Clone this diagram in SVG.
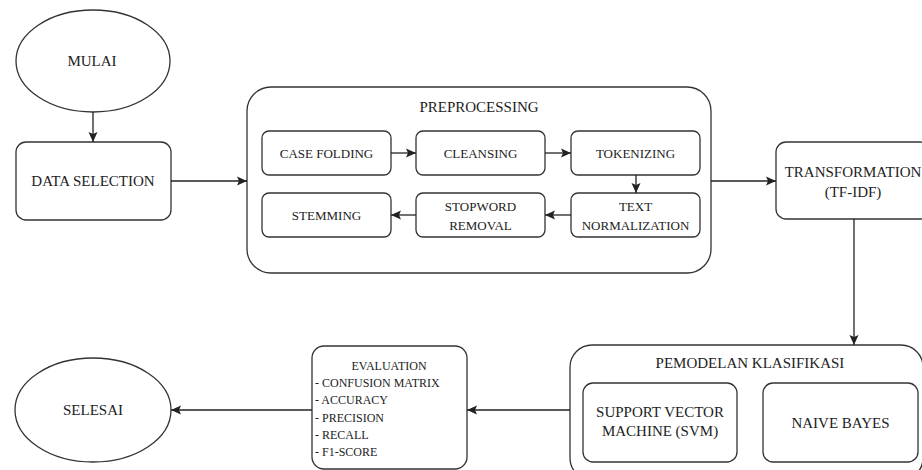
<svg xmlns="http://www.w3.org/2000/svg" width="922" height="470" viewBox="0 0 922 470">
<defs>
<marker id="arr" markerUnits="userSpaceOnUse" markerWidth="10" markerHeight="10" refX="10" refY="5" orient="auto">
<path d="M0,0.5 L10,5 L0,9.5 L2,5 z" fill="#222"/>
</marker>
<style>
.s{fill:#fff;stroke:#333;stroke-width:1.3}
text{fill:#222;text-anchor:middle;dominant-baseline:central}
.l{font-size:15px}
.m{font-size:13px}
.e{font-size:12px}
.c{fill:none;stroke:#222;stroke-width:1.3;marker-end:url(#arr)}
</style>
</defs>
<rect width="922" height="470" fill="#fff"/>
<g font-family="Liberation Serif, DejaVu Serif, serif">
<g id="mulai">
<ellipse class="s" cx="93" cy="61" rx="77" ry="51"/>
<text class="l" x="92" y="61">MULAI</text>
</g>
<g id="data-selection">
<rect class="s" x="16" y="142" width="155" height="78" rx="10"/>
<text class="l" x="93" y="181">DATA SELECTION</text>
</g>
<g id="preprocessing">
<rect class="s" x="247" y="87" width="464" height="186" rx="24"/>
<text class="l" x="479" y="107">PREPROCESSING</text>
</g>
<g id="case-folding">
<rect class="s" x="262" y="131" width="129" height="44" rx="7"/>
<text class="m" x="326.5" y="153">CASE FOLDING</text>
</g>
<g id="cleansing">
<rect class="s" x="416" y="131" width="129" height="44" rx="7"/>
<text class="m" x="480.5" y="153">CLEANSING</text>
</g>
<g id="tokenizing">
<rect class="s" x="571" y="131" width="129" height="44" rx="7"/>
<text class="m" x="635.5" y="153">TOKENIZING</text>
</g>
<g id="stemming">
<rect class="s" x="262" y="193" width="129" height="44" rx="7"/>
<text class="m" x="326.5" y="215">STEMMING</text>
</g>
<g id="stopword-removal">
<rect class="s" x="416" y="193" width="129" height="44" rx="7"/>
<text class="m" x="480.5" y="206">STOPWORD</text>
<text class="m" x="480.5" y="225">REMOVAL</text>
</g>
<g id="text-normalization">
<rect class="s" x="571" y="193" width="129" height="44" rx="7"/>
<text class="m" x="635.5" y="206">TEXT</text>
<text class="m" x="635.5" y="225">NORMALIZATION</text>
</g>
<g id="transformation">
<rect class="s" x="776" y="142" width="154" height="77" rx="10"/>
<text class="l" x="853" y="172">TRANSFORMATION</text>
<text class="l" x="853" y="192">(TF-IDF)</text>
</g>
<g id="pemodelan">
<rect class="s" x="570" y="345" width="353" height="135" rx="22"/>
<text class="l" x="750" y="363">PEMODELAN KLASIFIKASI</text>
</g>
<g id="svm">
<rect class="s" x="583" y="383" width="154" height="79" rx="10"/>
<text class="l" x="660" y="412">SUPPORT VECTOR</text>
<text class="l" x="660" y="431">MACHINE (SVM)</text>
</g>
<g id="naive-bayes">
<rect class="s" x="763" y="383" width="155" height="79" rx="10"/>
<text class="l" x="840.5" y="423">NAIVE BAYES</text>
</g>
<g id="evaluation">
<rect class="s" x="312" y="346" width="155" height="123" rx="12"/>
<text class="e" x="389" y="366">EVALUATION</text>
<text class="e" x="315" y="383" style="text-anchor:start">- CONFUSION MATRIX</text>
<text class="e" x="315" y="400" style="text-anchor:start">- ACCURACY</text>
<text class="e" x="315" y="418" style="text-anchor:start">- PRECISION</text>
<text class="e" x="315" y="435" style="text-anchor:start">- RECALL</text>
<text class="e" x="315" y="452" style="text-anchor:start">- F1-SCORE</text>
</g>
<g id="selesai">
<ellipse class="s" cx="93" cy="410" rx="78" ry="52"/>
<text class="l" x="93" y="410">SELESAI</text>
</g>
</g>
<g id="connectors">
<line class="c" x1="93" y1="112" x2="93" y2="142"/>
<line class="c" x1="171" y1="181" x2="247" y2="181"/>
<line class="c" x1="391" y1="153" x2="416" y2="153"/>
<line class="c" x1="545" y1="153" x2="571" y2="153"/>
<line class="c" x1="636" y1="175" x2="636" y2="193"/>
<line class="c" x1="571" y1="215" x2="545" y2="215"/>
<line class="c" x1="416" y1="215" x2="391" y2="215"/>
<line class="c" x1="711" y1="181" x2="776" y2="181"/>
<line class="c" x1="854" y1="219" x2="854" y2="345"/>
<line class="c" x1="570" y1="410" x2="467" y2="410"/>
<line class="c" x1="312" y1="410" x2="171" y2="410"/>
</g>
</svg>
